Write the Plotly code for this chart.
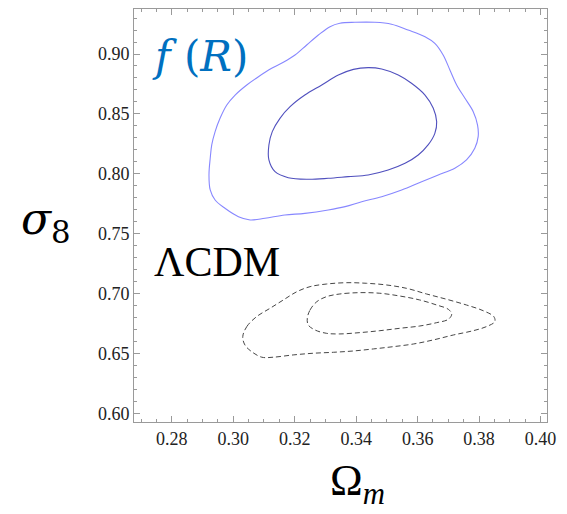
import plotly.graph_objects as go

# f(R) outer contour (2-sigma)
fr_outer_x = [0.3347, 0.3396, 0.3461, 0.3515, 0.3569, 0.3624, 0.3656, 0.3683, 0.3705, 0.3727,
              0.3754, 0.3781, 0.3795, 0.3797, 0.3786, 0.3759, 0.3721, 0.3667, 0.3613, 0.3548,
              0.3483, 0.3418, 0.3364, 0.3309, 0.3233, 0.3168, 0.3103, 0.3055, 0.3017, 0.2973,
              0.2941, 0.2925, 0.2921, 0.2925, 0.2930, 0.2941, 0.2957, 0.2979, 0.3006, 0.3044,
              0.3082, 0.3125, 0.3163, 0.3201, 0.3239, 0.3277, 0.3315, 0.3347]
fr_outer_y = [0.9256, 0.9264, 0.9264, 0.9248, 0.9200, 0.9144, 0.9089, 0.8992, 0.8867, 0.8742,
              0.8631, 0.8519, 0.8408, 0.8311, 0.8214, 0.8117, 0.8048, 0.7992, 0.7936, 0.7867,
              0.7811, 0.7769, 0.7728, 0.7700, 0.7672, 0.7658, 0.7631, 0.7617, 0.7644, 0.7714,
              0.7783, 0.7867, 0.7992, 0.8131, 0.8242, 0.8353, 0.8464, 0.8575, 0.8658, 0.8742,
              0.8811, 0.8881, 0.8931, 0.8992, 0.9075, 0.9158, 0.9228, 0.9256]

# f(R) inner contour (1-sigma)
fr_inner_x = [0.3439, 0.3483, 0.3537, 0.3580, 0.3624, 0.3651, 0.3662, 0.3656, 0.3634, 0.3602,
              0.3559, 0.3504, 0.3439, 0.3374, 0.3309, 0.3244, 0.3179, 0.3136, 0.3116, 0.3116,
              0.3127, 0.3152, 0.3185, 0.3233, 0.3288, 0.3342, 0.3391, 0.3439]
fr_inner_y = [0.8886, 0.8875, 0.8825, 0.8756, 0.8658, 0.8548, 0.8436, 0.8339, 0.8242, 0.8158,
              0.8089, 0.8033, 0.7992, 0.7978, 0.7964, 0.7956, 0.7969, 0.8019, 0.8117, 0.8242,
              0.8353, 0.8464, 0.8561, 0.8658, 0.8742, 0.8825, 0.8872, 0.8886]

# LCDM outer contour
lcdm_outer_x = [0.3031, 0.3044, 0.3076, 0.3120, 0.3163, 0.3207, 0.3250, 0.3304, 0.3369, 0.3434,
                0.3499, 0.3564, 0.3629, 0.3694, 0.3759, 0.3813, 0.3848, 0.3851, 0.3824, 0.3781,
                0.3716, 0.3651, 0.3586, 0.3521, 0.3456, 0.3391, 0.3326, 0.3260, 0.3195, 0.3130,
                0.3093, 0.3060, 0.3038, 0.3031]
lcdm_outer_y = [0.6644, 0.6728, 0.6811, 0.6881, 0.6950, 0.7019, 0.7061, 0.7083, 0.7094, 0.7089,
                0.7075, 0.7047, 0.7000, 0.6956, 0.6908, 0.6861, 0.6811, 0.6769, 0.6728, 0.6694,
                0.6658, 0.6617, 0.6583, 0.6561, 0.6542, 0.6525, 0.6514, 0.6506, 0.6492, 0.6473,
                0.6473, 0.6519, 0.6575, 0.6644]

# LCDM inner contour
lcdm_inner_x = [0.3241, 0.3250, 0.3272, 0.3304, 0.3347, 0.3412, 0.3477, 0.3542, 0.3607, 0.3662,
                0.3700, 0.3711, 0.3700, 0.3662, 0.3607, 0.3542, 0.3477, 0.3412, 0.3347, 0.3304,
                0.3266, 0.3244, 0.3241]
lcdm_inner_y = [0.6798, 0.6867, 0.6936, 0.6978, 0.7000, 0.7011, 0.7006, 0.6983, 0.6950, 0.6908,
                0.6872, 0.6833, 0.6789, 0.6761, 0.6733, 0.6714, 0.6694, 0.6678, 0.6667, 0.6672,
                0.6700, 0.6742, 0.6798]

x_ticks = [0.28, 0.30, 0.32, 0.34, 0.36, 0.38, 0.40]
x_tick_labels = ["0.28", "0.30", "0.32", "0.34", "0.36", "0.38", "0.40"]
y_ticks = [0.60, 0.65, 0.70, 0.75, 0.80, 0.85, 0.90]
y_tick_labels = ["0.60", "0.65", "0.70", "0.75", "0.80", "0.85", "0.90"]

fig = go.Figure()
fig.add_trace(go.Scatter(x=fr_outer_x, y=fr_outer_y, mode="lines", line_shape="spline",
                         line=dict(color="rgb(135,135,255)", width=1.1), showlegend=False))
fig.add_trace(go.Scatter(x=fr_inner_x, y=fr_inner_y, mode="lines", line_shape="spline",
                         line=dict(color="rgb(80,80,190)", width=1.1), showlegend=False))
fig.add_trace(go.Scatter(x=lcdm_outer_x, y=lcdm_outer_y, mode="lines", line_shape="spline",
                         line=dict(color="rgb(70,70,70)", width=1.0, dash="5px,3px"), showlegend=False))
fig.add_trace(go.Scatter(x=lcdm_inner_x, y=lcdm_inner_y, mode="lines", line_shape="spline",
                         line=dict(color="rgb(70,70,70)", width=1.0, dash="5px,3px"), showlegend=False))

tick_font = dict(family="Liberation Serif", size=18, color="#222")

for upd, rng, tv, tt, mdt, mt0 in [
    (fig.update_xaxes, [0.2677, 0.4021], x_ticks, x_tick_labels, 0.005, 0.28),
    (fig.update_yaxes, [0.5933, 0.9375], y_ticks, y_tick_labels, 0.01, 0.60),
]:
    upd(range=rng, tickmode="array", tickvals=tv, ticktext=tt,
        showgrid=False, zeroline=False, showline=True, linecolor="#9a9a9a",
        linewidth=1, mirror="ticks", ticks="inside", ticklen=6, tickcolor="#9a9a9a",
        tickwidth=1, tickfont=tick_font,
        minor=dict(dtick=mdt, tick0=mt0, ticks="inside", ticklen=3, tickcolor="#9a9a9a"))

fig.add_annotation(text="<i>f</i> (<i>R</i>)", xref="paper", yref="paper", x=0.16, y=0.884,
                   showarrow=False, xanchor="center", yanchor="middle",
                   font=dict(family="DejaVu Serif", size=42, color="#0070C0"))
fig.add_annotation(text="ΛCDM", xref="paper", yref="paper", x=0.201, y=0.387,
                   showarrow=False, xanchor="center", yanchor="middle",
                   font=dict(family="Liberation Serif", size=42, color="black"))
fig.add_annotation(text="<i>σ</i><sub>8</sub>", xref="paper", yref="paper", x=-0.213, y=0.485,
                   showarrow=False, xanchor="center", yanchor="middle",
                   font=dict(family="DejaVu Serif", size=44, color="black"))
fig.add_annotation(text="Ω<sub><i>m</i></sub>", xref="paper", yref="paper", x=0.54, y=-0.15,
                   showarrow=False, xanchor="center", yanchor="middle",
                   font=dict(family="Liberation Serif", size=44, color="black"))

# page has an 8px body margin, so the figure is shifted by 8px; compensate
fig.update_layout(width=559, height=506, margin=dict(l=126, r=20, t=1, b=92),
                  font=dict(family="Liberation Serif", size=18, color="#222"),
                  plot_bgcolor="white", paper_bgcolor="white")

fig.write_html("out.html")
